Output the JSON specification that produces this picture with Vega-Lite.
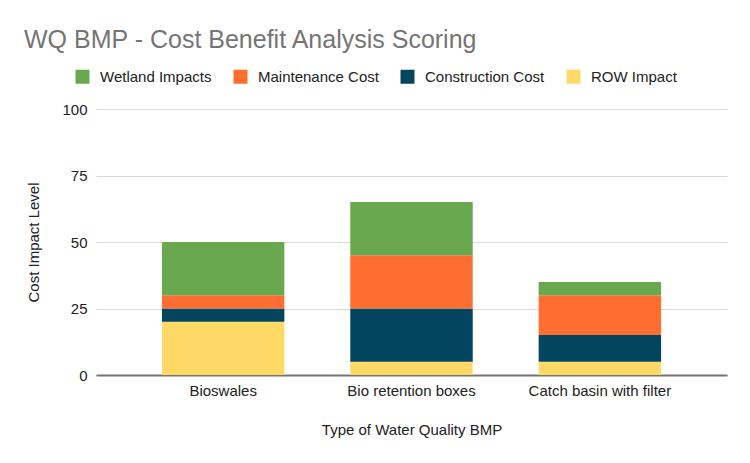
{
  "$schema": "https://vega.github.io/schema/vega-lite/v6.json",
  "width": 631,
  "height": 266,
  "autosize": {"type": "none"},
  "padding": {"left": 96, "top": 109, "right": 23, "bottom": 88},
  "background": "white",
  "title": {
    "text": "WQ BMP - Cost Benefit Analysis Scoring",
    "anchor": "start",
    "frame": "group",
    "font": "Liberation Sans",
    "fontSize": 25,
    "fontWeight": "normal",
    "color": "#757575",
    "dx": -72,
    "offset": 16
  },
  "config": {
    "view": {"stroke": null},
    "font": "Liberation Sans"
  },
  "data": {
    "values": [
      {"bmp": "Bioswales", "category": "ROW Impact", "ord": 1, "value": 20},
      {"bmp": "Bioswales", "category": "Construction Cost", "ord": 2, "value": 5},
      {"bmp": "Bioswales", "category": "Maintenance Cost", "ord": 3, "value": 5},
      {"bmp": "Bioswales", "category": "Wetland Impacts", "ord": 4, "value": 20},
      {"bmp": "Bio retention boxes", "category": "ROW Impact", "ord": 1, "value": 5},
      {"bmp": "Bio retention boxes", "category": "Construction Cost", "ord": 2, "value": 20},
      {"bmp": "Bio retention boxes", "category": "Maintenance Cost", "ord": 3, "value": 20},
      {"bmp": "Bio retention boxes", "category": "Wetland Impacts", "ord": 4, "value": 20},
      {"bmp": "Catch basin with filter", "category": "ROW Impact", "ord": 1, "value": 5},
      {"bmp": "Catch basin with filter", "category": "Construction Cost", "ord": 2, "value": 10},
      {"bmp": "Catch basin with filter", "category": "Maintenance Cost", "ord": 3, "value": 15},
      {"bmp": "Catch basin with filter", "category": "Wetland Impacts", "ord": 4, "value": 5}
    ]
  },
  "mark": {"type": "bar"},
  "encoding": {
    "x": {
      "field": "bmp",
      "type": "nominal",
      "sort": ["Bioswales", "Bio retention boxes", "Catch basin with filter"],
      "scale": {"paddingInner": 0.35, "paddingOuter": 0.35},
      "axis": {
        "title": "Type of Water Quality BMP",
        "labelAngle": 0,
        "labelFontSize": 15,
        "labelColor": "#222222",
        "titleFontSize": 15,
        "titleFontWeight": "normal",
        "titleColor": "#222222",
        "domainColor": "#757575",
        "domainWidth": 2,
        "ticks": false,
        "labelPadding": 8,
        "titlePadding": 24
      }
    },
    "y": {
      "field": "value",
      "type": "quantitative",
      "stack": "zero",
      "scale": {"domain": [0, 100], "nice": false},
      "axis": {
        "title": "Cost Impact Level",
        "values": [0, 25, 50, 75, 100],
        "labelFontSize": 15,
        "labelColor": "#222222",
        "titleFontSize": 15,
        "titleFontWeight": "normal",
        "titleColor": "#222222",
        "gridColor": "#d9d9d9",
        "domain": false,
        "ticks": false,
        "labelPadding": 9,
        "titlePadding": 20
      }
    },
    "color": {
      "field": "category",
      "type": "nominal",
      "scale": {
        "domain": ["Wetland Impacts", "Maintenance Cost", "Construction Cost", "ROW Impact"],
        "range": ["#6AA84F", "#FF6D31", "#03445E", "#FFD966"]
      },
      "legend": {
        "title": null,
        "orient": "none",
        "legendX": -21,
        "legendY": -40,
        "direction": "horizontal",
        "columns": 4,
        "columnPadding": 21,
        "symbolType": "square",
        "symbolSize": 196,
        "symbolStrokeWidth": 0,
        "labelFontSize": 15,
        "labelColor": "#222222",
        "labelOffset": 10
      }
    },
    "order": {"field": "ord", "type": "quantitative", "sort": "ascending"}
  }
}
